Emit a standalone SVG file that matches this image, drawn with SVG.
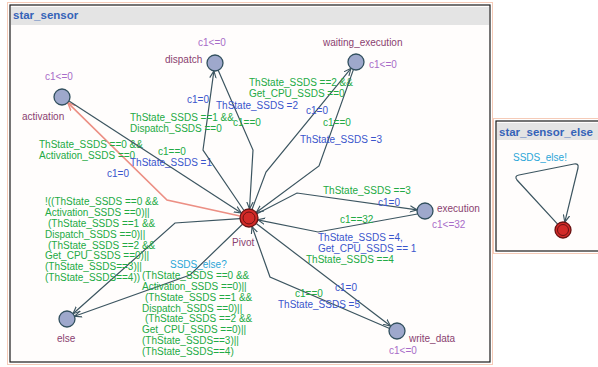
<svg xmlns="http://www.w3.org/2000/svg" width="598" height="367" viewBox="0 0 598 367">
<defs>
<style>
text{font-family:"Liberation Sans",Arial,sans-serif;font-size:10px}
.ttl{font-weight:bold;font-size:11.5px;fill:#3563b8}
.nm{fill:#8a3f70}
.inv{fill:#a86cc8}
.g{fill:#22aa44}
.b{fill:#3a55cc}
.s{fill:#2aa6d8}
.e{fill:none;stroke:#3c5560;stroke-width:1.2}
.ep{fill:none;stroke:#ec8f84;stroke-width:1.6}
.loc{fill:#9ea8cc;stroke:#32505e;stroke-width:1.3}
.piv{fill:#d22a28;stroke:#6a1212;stroke-width:1.3}
.fr{fill:none;stroke:#f5cbb8;stroke-width:1}
.bd{fill:#fffdfc;stroke:#1a1a1a;stroke-width:1.2}
</style>
<marker id="ar" viewBox="0 0 10 10" refX="9" refY="5" markerWidth="8" markerHeight="8" orient="auto" markerUnits="userSpaceOnUse">
<path d="M0,1 L9,5 L0,9" fill="none" stroke="#3c5560" stroke-width="1.4"/>
</marker>
<marker id="arp" viewBox="0 0 10 10" refX="9" refY="5" markerWidth="9" markerHeight="9" orient="auto" markerUnits="userSpaceOnUse">
<path d="M0,1 L9,5 L0,9" fill="none" stroke="#ec8f84" stroke-width="1.6"/>
</marker>
</defs>
<rect width="598" height="367" fill="#ffffff"/>

<g id="panel-star_sensor">
<rect class="fr" x="7.5" y="2.5" width="485" height="362"/>
<rect class="bd" x="10" y="5" width="480" height="357"/>
<rect x="11" y="7" width="478" height="18" fill="#e4e4e4"/>
<text class="ttl" x="13" y="19">star_sensor</text>
</g>

<g id="panel-star_sensor_else">
<rect class="fr" x="493.5" y="118.5" width="106" height="135"/>
<rect class="bd" x="496" y="121" width="103" height="130"/>
<rect x="497" y="123" width="101" height="17" fill="#e4e4e4"/>
<text class="ttl" x="499" y="136">star_sensor_else</text>
</g>

<g id="connectors">
<g id="e-pivot-activation">
<polyline class="ep" points="240,216 167,200 67.7,102.6" marker-end="url(#arp)"/>
<text class="g" x="39" y="148">ThState_SSDS ==0 &amp;&amp;</text>
<text class="g" x="39" y="159">Activation_SSDS ==0</text>
<text class="b" x="107" y="177">c1=0</text>
</g>
<g id="e-activation-pivot">
<line class="e" x1="69" y1="101" x2="241.4" y2="213.1" marker-end="url(#ar)"/>
<text class="g" x="158" y="155">c1==0</text>
<text class="b" x="130" y="166">ThState_SSDS =1</text>
</g>
<g id="e-pivot-dispatch">
<polyline class="e" points="244,210.5 203,150 213.9,70.9" marker-end="url(#ar)"/>
<text class="g" x="130" y="121">ThState_SSDS ==1 &amp;&amp;</text>
<text class="g" x="130" y="132">Dispatch_SSDS ==0</text>
<text class="b" x="187" y="103">c1=0</text>
</g>
<g id="e-dispatch-pivot">
<polyline class="e" points="218.2,70.3 253,150 249.5,209" marker-end="url(#ar)"/>
<text class="g" x="233" y="126">c1==0</text>
<text class="b" x="216" y="109">ThState_SSDS =2</text>
</g>
<g id="e-pivot-waiting">
<polyline class="e" points="252,209.5 266,172 351,68.3" marker-end="url(#ar)"/>
<text class="g" x="249" y="86">ThState_SSDS ==2 &amp;&amp;</text>
<text class="g" x="249" y="97">Get_CPU_SSDS ==0</text>
<text class="b" x="306" y="114">c1=0</text>
</g>
<g id="e-waiting-pivot">
<polyline class="e" points="353.4,69.6 319,166 256.2,212.6" marker-end="url(#ar)"/>
<text class="g" x="323" y="126">c1==0</text>
<text class="b" x="300" y="143">ThState_SSDS =3</text>
</g>
<g id="e-pivot-execution">
<polyline class="e" points="257,213.8 297,193 417.1,209.9" marker-end="url(#ar)"/>
<text class="g" x="323" y="194">ThState_SSDS ==3</text>
<text class="b" x="378" y="206">c1=0</text>
</g>
<g id="e-execution-pivot">
<polyline class="e" points="417.5,214 318,232 257.8,219.8" marker-end="url(#ar)"/>
<text class="g" x="340" y="223">c1==32</text>
<text class="b" x="318" y="241">ThState_SSDS =4,</text>
<text class="b" x="318" y="252">Get_CPU_SSDS == 1</text>
</g>
<g id="e-pivot-write_data">
<line class="e" x1="256.2" y1="223.5" x2="390.6" y2="326.1" marker-end="url(#ar)"/>
<text class="g" x="306" y="263">ThState_SSDS ==4</text>
<text class="b" x="335" y="291">c1=0</text>
</g>
<g id="e-write_data-pivot">
<polyline class="e" points="389.6,328.5 270,277 252,226.5" marker-end="url(#ar)"/>
<text class="g" x="295" y="297">c1==0</text>
<text class="b" x="278" y="308">ThState_SSDS =5</text>
</g>
<g id="e-pivot-else-1">
<polyline class="e" points="240,218.6 175,223 73,313.7" marker-end="url(#ar)"/>
<text class="g" x="45" y="205">!((ThState_SSDS ==0 &amp;&amp;</text>
<text class="g" x="45" y="216">Activation_SSDS ==0)||</text>
<text class="g" x="48" y="227">(ThState_SSDS ==1 &amp;&amp;</text>
<text class="g" x="45" y="238">Dispatch_SSDS ==0)||</text>
<text class="g" x="48" y="249">(ThState_SSDS ==2 &amp;&amp;</text>
<text class="g" x="45" y="259">Get_CPU_SSDS ==0)||</text>
<text class="g" x="45" y="270">(ThState_SSDS==3)||</text>
<text class="g" x="45" y="281">(ThState_SSDS==4))</text>
</g>
<g id="e-pivot-else-2">
<polyline class="e" points="242.5,224.3 190,275 74.5,316.3" marker-end="url(#ar)"/>
<text class="s" x="170" y="268">SSDS_else?</text>
<text class="g" x="142" y="279">(ThState_SSDS ==0 &amp;&amp;</text>
<text class="g" x="142" y="290">Activation_SSDS ==0)||</text>
<text class="g" x="145" y="301">(ThState_SSDS ==1 &amp;&amp;</text>
<text class="g" x="142" y="312">Dispatch_SSDS ==0)||</text>
<text class="g" x="145" y="322">(ThState_SSDS ==2 &amp;&amp;</text>
<text class="g" x="142" y="333">Get_CPU_SSDS ==0)||</text>
<text class="g" x="142" y="344">(ThState_SSDS==3)||</text>
<text class="g" x="142" y="355">(ThState_SSDS==4)</text>
</g>
<g id="e-else-loop">
<path class="e" d="M557.6,224.1 L517,180 Q514,176 519,175 L574,164 Q579,163 578,168 L564.8,222.2" marker-end="url(#ar)"/>
<text class="s" x="513" y="161">SSDS_else!</text>
</g>
</g>

<g id="node-activation">
<circle class="loc" cx="62" cy="97" r="8"/>
<text class="inv" x="45" y="80">c1&lt;=0</text>
<text class="nm" x="22" y="120">activation</text>
</g>
<g id="node-dispatch">
<circle class="loc" cx="215" cy="63" r="8"/>
<text class="inv" x="198" y="46">c1&lt;=0</text>
<text class="nm" x="165" y="63">dispatch</text>
</g>
<g id="node-waiting_execution">
<circle class="loc" cx="356" cy="62" r="8"/>
<text class="nm" x="323" y="46">waiting_execution</text>
<text class="inv" x="369" y="68">c1&lt;=0</text>
</g>
<g id="node-execution">
<circle class="loc" cx="425" cy="211" r="8"/>
<text class="nm" x="437" y="212">execution</text>
<text class="inv" x="432" y="228">c1&lt;=32</text>
</g>
<g id="node-write_data">
<circle class="loc" cx="397" cy="331" r="8"/>
<text class="nm" x="409" y="342">write_data</text>
<text class="inv" x="389" y="354">c1&lt;=0</text>
</g>
<g id="node-else">
<circle class="loc" cx="67" cy="319" r="8"/>
<text class="nm" x="57" y="342">else</text>
</g>
<g id="node-pivot">
<circle class="piv" cx="249" cy="218" r="9"/>
<circle cx="249" cy="218" r="6" fill="none" stroke="#6a1212" stroke-width="1"/>
<text class="nm" x="232" y="246">Pivot</text>
</g>
<g id="node-else-init">
<circle class="piv" cx="563" cy="230" r="8"/>
<circle cx="563" cy="230" r="5.5" fill="none" stroke="#6a1212" stroke-width="1"/>
</g>
</svg>
